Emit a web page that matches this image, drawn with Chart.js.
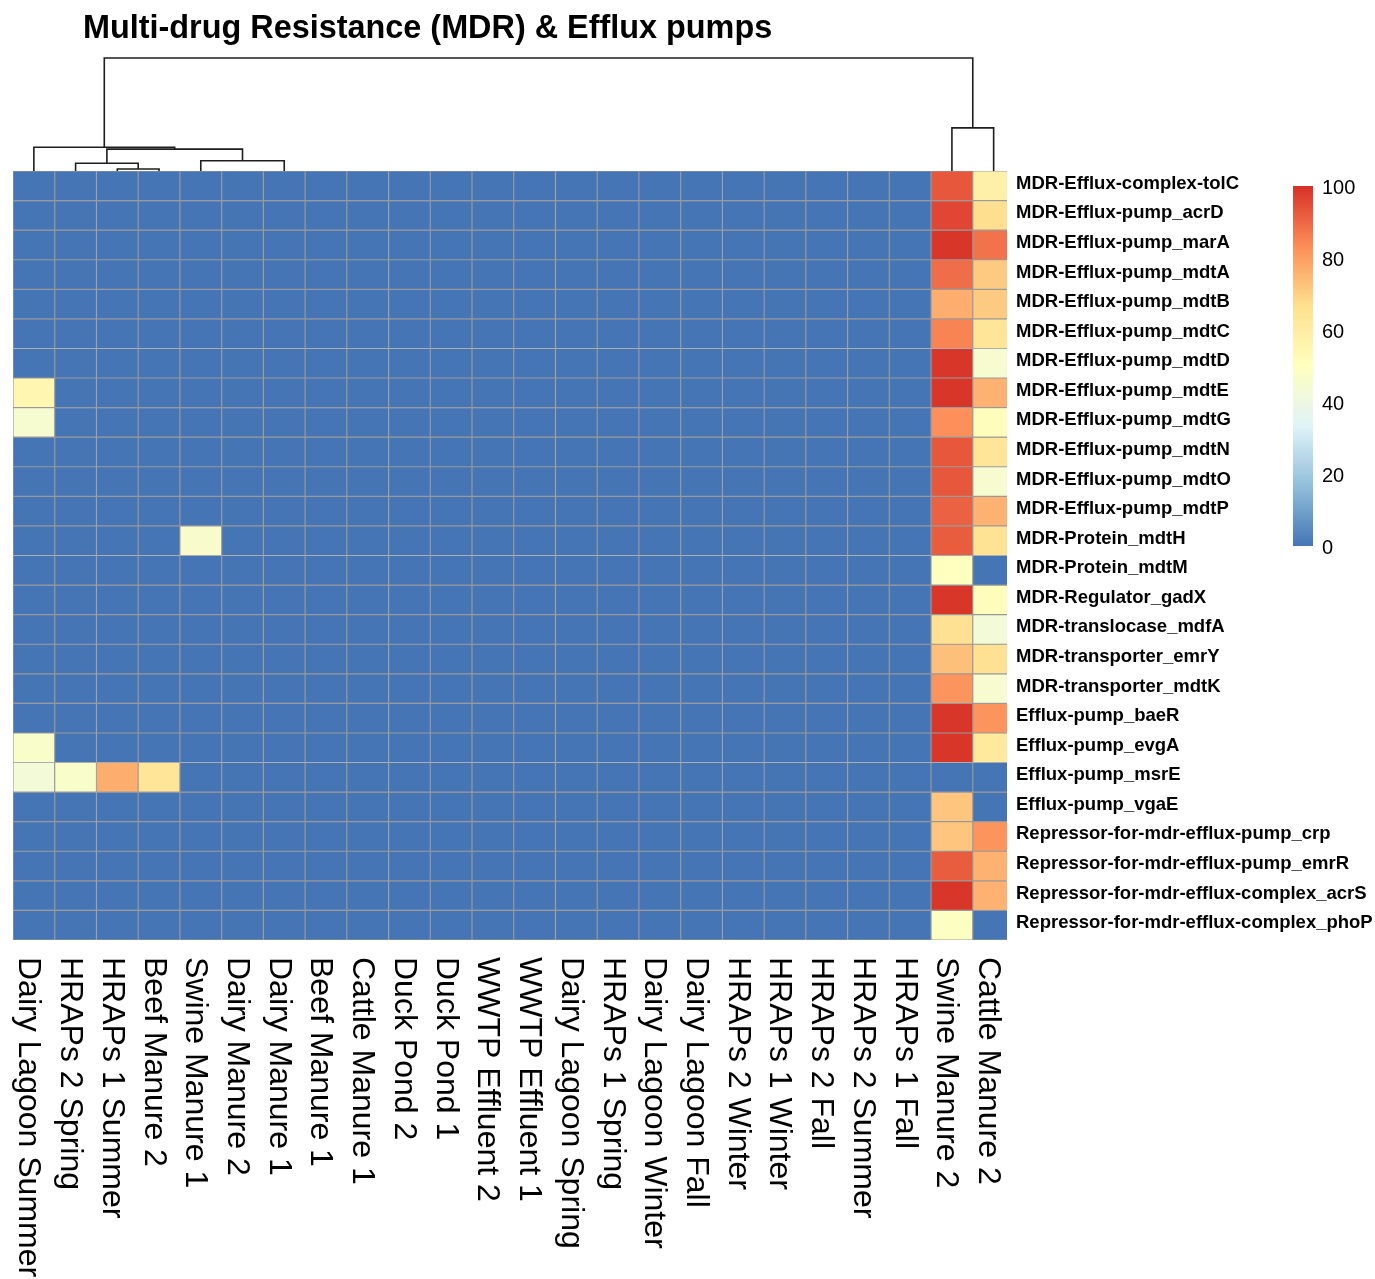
<!DOCTYPE html>
<html>
<head>
<meta charset="utf-8">
<title>Multi-drug Resistance (MDR) & Efflux pumps</title>
<script src="https://cdn.jsdelivr.net/npm/chart.js@4.4.1/dist/chart.umd.min.js"></script>
<style>
  html, body { margin: 0; padding: 0; background: #fff; }
  #wrap { width: 1375px; height: 1279px; }
</style>
</head>
<body>
<div id="wrap"><canvas id="heat"></canvas></div>
<script>
//Samples (columns, in dendrogram order)
const samples = ["Dairy Lagoon Summer", "HRAPs 2 Spring", "HRAPs 1 Summer", "Beef Manure 2", "Swine Manure 1",
  "Dairy Manure 2", "Dairy Manure 1", "Beef Manure 1", "Cattle Manure 1", "Duck Pond 2", "Duck Pond 1",
  "WWTP Effluent 2", "WWTP Effluent 1", "Dairy Lagoon Spring", "HRAPs 1 Spring", "Dairy Lagoon Winter",
  "Dairy Lagoon Fall", "HRAPs 2 Winter", "HRAPs 1 Winter", "HRAPs 2 Fall", "HRAPs 2 Summer", "HRAPs 1 Fall",
  "Swine Manure 2", "Cattle Manure 2"];

//Genes (rows)
const genes = ["MDR-Efflux-complex-tolC", "MDR-Efflux-pump_acrD", "MDR-Efflux-pump_marA", "MDR-Efflux-pump_mdtA",
  "MDR-Efflux-pump_mdtB", "MDR-Efflux-pump_mdtC", "MDR-Efflux-pump_mdtD", "MDR-Efflux-pump_mdtE",
  "MDR-Efflux-pump_mdtG", "MDR-Efflux-pump_mdtN", "MDR-Efflux-pump_mdtO", "MDR-Efflux-pump_mdtP",
  "MDR-Protein_mdtH", "MDR-Protein_mdtM", "MDR-Regulator_gadX", "MDR-translocase_mdfA",
  "MDR-transporter_emrY", "MDR-transporter_mdtK", "Efflux-pump_baeR", "Efflux-pump_evgA",
  "Efflux-pump_msrE", "Efflux-pump_vgaE", "Repressor-for-mdr-efflux-pump_crp",
  "Repressor-for-mdr-efflux-pump_emrR", "Repressor-for-mdr-efflux-complex_acrS",
  "Repressor-for-mdr-efflux-complex_phoP"];

//Values 0-100, one row per gene, one entry per sample
const values = [
  [0,0,0,0,0, 0,0,0,0,0,0,0,0,0,0,0,0,0,0,0,0,0, 93,58],
  [0,0,0,0,0, 0,0,0,0,0,0,0,0,0,0,0,0,0,0,0,0,0, 96,67],
  [0,0,0,0,0, 0,0,0,0,0,0,0,0,0,0,0,0,0,0,0,0,0, 99,88],
  [0,0,0,0,0, 0,0,0,0,0,0,0,0,0,0,0,0,0,0,0,0,0, 89,71],
  [0,0,0,0,0, 0,0,0,0,0,0,0,0,0,0,0,0,0,0,0,0,0, 77,71],
  [0,0,0,0,0, 0,0,0,0,0,0,0,0,0,0,0,0,0,0,0,0,0, 85,64],
  [0,0,0,0,0, 0,0,0,0,0,0,0,0,0,0,0,0,0,0,0,0,0, 99,45],
  [55,0,0,0,0, 0,0,0,0,0,0,0,0,0,0,0,0,0,0,0,0,0, 99,76],
  [45,0,0,0,0, 0,0,0,0,0,0,0,0,0,0,0,0,0,0,0,0,0, 83,51],
  [0,0,0,0,0, 0,0,0,0,0,0,0,0,0,0,0,0,0,0,0,0,0, 93,64],
  [0,0,0,0,0, 0,0,0,0,0,0,0,0,0,0,0,0,0,0,0,0,0, 93,45],
  [0,0,0,0,0, 0,0,0,0,0,0,0,0,0,0,0,0,0,0,0,0,0, 91,76],
  [0,0,0,0,46, 0,0,0,0,0,0,0,0,0,0,0,0,0,0,0,0,0, 92,65],
  [0,0,0,0,0, 0,0,0,0,0,0,0,0,0,0,0,0,0,0,0,0,0, 50,0],
  [0,0,0,0,0, 0,0,0,0,0,0,0,0,0,0,0,0,0,0,0,0,0, 99,51],
  [0,0,0,0,0, 0,0,0,0,0,0,0,0,0,0,0,0,0,0,0,0,0, 66,43],
  [0,0,0,0,0, 0,0,0,0,0,0,0,0,0,0,0,0,0,0,0,0,0, 73,66],
  [0,0,0,0,0, 0,0,0,0,0,0,0,0,0,0,0,0,0,0,0,0,0, 82,45],
  [0,0,0,0,0, 0,0,0,0,0,0,0,0,0,0,0,0,0,0,0,0,0, 99,82],
  [47,0,0,0,0, 0,0,0,0,0,0,0,0,0,0,0,0,0,0,0,0,0, 99,62],
  [43,47,77,64,0, 0,0,0,0,0,0,0,0,0,0,0,0,0,0,0,0,0, 0,0],
  [0,0,0,0,0, 0,0,0,0,0,0,0,0,0,0,0,0,0,0,0,0,0, 72,0],
  [0,0,0,0,0, 0,0,0,0,0,0,0,0,0,0,0,0,0,0,0,0,0, 72,82],
  [0,0,0,0,0, 0,0,0,0,0,0,0,0,0,0,0,0,0,0,0,0,0, 92,76],
  [0,0,0,0,0, 0,0,0,0,0,0,0,0,0,0,0,0,0,0,0,0,0, 99,76],
  [0,0,0,0,0, 0,0,0,0,0,0,0,0,0,0,0,0,0,0,0,0,0, 49,0]
];

//Colour bar ticks
const legendTicks = [0, 20, 40, 60, 80, 100];

//Column dendrogram, hclust style: negative = leaf (-1 is first sample), positive = earlier merge (1-based)
const treeMerges = [
  [-21, -22, 0], [-20, 1, 0], [-19, 2, 0], [-18, 3, 0], [-17, 4, 0], [-16, 5, 0], [-15, 6, 0],
  [-14, 7, 0], [-13, 8, 0], [-12, 9, 0], [-11, 10, 0], [-10, 11, 0], [-9, 12, 0], [-8, 13, 0],
  [-7, 14, 0], [-6, 15, 0],
  [-3, -4, 0.018], [-2, 17, 0.068], [-5, 16, 0.091], [18, 19, 0.194], [-1, 20, 0.21],
  [-23, -24, 0.382], [21, 22, 1]
];

//------------------------------------------

//RdYlBu palette (pheatmap default)
const ramp = ["#4575B4", "#91BFDB", "#E0F3F8", "#FFFFBF", "#FEE090", "#FC8D59", "#D73027"];

function hexRgb(h) {
  return [parseInt(h.slice(1, 3), 16), parseInt(h.slice(3, 5), 16), parseInt(h.slice(5, 7), 16)];
}

function colourFor(v) {
  const t = Math.max(0, Math.min(1, v / 100)) * (ramp.length - 1);
  const i = Math.min(Math.floor(t), ramp.length - 2);
  const f = t - i;
  const a = hexRgb(ramp[i]), b = hexRgb(ramp[i + 1]);
  const c = a.map((x, k) => Math.round(x + (b[k] - x) * f));
  return `rgb(${c[0]},${c[1]},${c[2]})`;
}

//x range: last column is cut a little at the right edge, like the original
const xMin = -0.5, xMax = 23.32;

//One stacked dataset per gene row
const datasets = genes.map((g, r) => ({
  label: g,
  data: samples.map((s, i) => ({ x: i, y: 1 })),
  backgroundColor: values[r].map(colourFor),
  borderColor: "#9a9a9a",
  borderWidth: 0.9,
  borderSkipped: false,
  clip: 0,
  barPercentage: 1,
  categoryPercentage: 1
}));

const colFont = '32px "Liberation Sans", Arial, sans-serif';
const rowFont = 'bold 18.5px "Liberation Sans", Arial, sans-serif';

//Plugin for title, labels, dendrogram and colour bar
const extras = {
  id: "extras",
  afterDraw(chart) {
    const ctx = chart.ctx;
    const xs = chart.scales.x, ys = chart.scales.y;
    const area = chart.chartArea;
    ctx.save();
    ctx.fillStyle = "#000";

    //title
    ctx.font = 'bold 32.4px "Liberation Sans", Arial, sans-serif';
    ctx.textAlign = "left";
    ctx.textBaseline = "alphabetic";
    ctx.fillText("Multi-drug Resistance (MDR) & Efflux pumps", 83, 38);

    //row labels
    ctx.font = rowFont;
    genes.forEach((g, r) => {
      ctx.fillText(g, area.right + 9, ys.getPixelForValue(r + 0.5) + 3);
    });

    //column labels, rotated
    ctx.font = colFont;
    samples.forEach((s, i) => {
      ctx.save();
      ctx.translate(xs.getPixelForValue(i) - 14.5, area.bottom + 17);
      ctx.rotate(Math.PI / 2);
      ctx.fillText(s, 0, 0);
      ctx.restore();
    });

    //dendrogram
    const treeTop = 58;
    const maxH = Math.max(...treeMerges.map(m => m[2]));
    const hy = h => area.top - h / maxH * (area.top - treeTop);
    const pos = [];
    const node = k => k < 0 ? { x: -k - 1, h: 0 } : pos[k - 1];
    ctx.strokeStyle = "#1e1e1e";
    ctx.lineWidth = 1.6;
    treeMerges.forEach(m => {
      const a = node(m[0]), b = node(m[1]);
      pos.push({ x: (a.x + b.x) / 2, h: m[2] });
      if (m[2] <= 0) return;
      const xa = xs.getPixelForValue(a.x), xb = xs.getPixelForValue(b.x), y = hy(m[2]);
      ctx.beginPath();
      ctx.moveTo(xa, hy(a.h));
      ctx.lineTo(xa, y);
      ctx.lineTo(xb, y);
      ctx.lineTo(xb, hy(b.h));
      ctx.stroke();
    });

    //colour bar
    const bx = 1293, bw = 20, bTop = 186, bBot = 546;
    const grad = ctx.createLinearGradient(0, bBot, 0, bTop);
    ramp.forEach((c, k) => grad.addColorStop(k / (ramp.length - 1), c));
    ctx.fillStyle = grad;
    ctx.fillRect(bx, bTop, bw, bBot - bTop);
    ctx.fillStyle = "#000";
    ctx.font = '20px "Liberation Sans", Arial, sans-serif';
    ctx.textBaseline = "middle";
    legendTicks.forEach(t => {
      ctx.fillText(String(t), bx + 29, bBot - t / 100 * (bBot - bTop) + 2);
    });
    ctx.restore();
  }
};

//Configurations heatmap
const config = {
  type: "bar",
  data: { datasets: datasets },
  options: {
    responsive: true,
    maintainAspectRatio: false,
    animation: false,
    events: [],
    layout: { padding: { left: 13, right: 368, top: 171, bottom: 339 } },
    scales: {
      x: {
        type: "linear", display: false, stacked: true, offset: false, bounds: "data", min: xMin, max: xMax,
        afterBuildTicks: (scale) => {
          scale.ticks = samples.map((s, i) => ({ value: i }));
          scale.min = xMin;
          scale.max = xMax;
        }
      },
      y: { type: "linear", display: false, stacked: true, reverse: true, min: 0, max: genes.length }
    },
    plugins: {
      legend: { display: false },
      tooltip: { enabled: false }
    }
  },
  plugins: [extras]
};

//------------------------------------------
//Render heatmap
const heat = new Chart(document.getElementById("heat"), config);
</script>
</body>
</html>
